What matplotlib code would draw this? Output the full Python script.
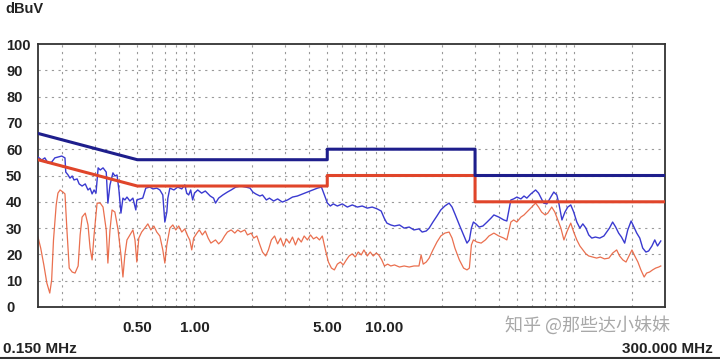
import matplotlib
matplotlib.use("Agg")
import matplotlib.pyplot as plt

# ---------------- data ----------------
limit_freq = [0.15, 0.5, 5, 5, 30, 30, 300]
qp_limit = [66, 56, 56, 60, 60, 50, 50]
av_limit = [56, 46, 46, 50, 50, 40, 40]

blue_freq = [0.150, 0.157, 0.163, 0.169, 0.177, 0.184, 0.191, 0.200, 0.208, 0.210,
             0.216, 0.221, 0.227, 0.232, 0.241, 0.247, 0.256, 0.266, 0.275, 0.282,
             0.289, 0.296, 0.303, 0.307, 0.311, 0.319, 0.330, 0.343, 0.350, 0.359,
             0.372, 0.381, 0.391, 0.400, 0.410, 0.420, 0.430, 0.441, 0.457, 0.474,
             0.491, 0.497, 0.515, 0.534, 0.554, 0.582, 0.604, 0.633, 0.657, 0.681,
             0.698, 0.715, 0.724, 0.742, 0.779, 0.816, 0.857, 0.889, 0.910, 0.932,
             0.955, 0.978, 1.00, 1.04, 1.09, 1.14, 1.21, 1.26, 1.29, 1.34,
             1.41, 1.49, 1.56, 1.65, 1.75, 1.86, 1.96, 2.03, 2.10, 2.21,
             2.28, 2.39, 2.48, 2.61, 2.74, 2.90, 3.09, 3.28, 3.48, 3.71,
             3.93, 4.18, 4.44, 4.66, 4.83, 5.01, 5.19, 5.38, 5.65, 6.00,
             6.38, 6.77, 7.20, 7.64, 8.12, 8.62, 9.16, 9.61, 9.97, 10.3,
             10.8, 11.3, 12.0, 12.7, 13.5, 14.3, 15.2, 15.8, 16.6, 17.2,
             18.0, 18.9, 19.8, 20.8, 21.9, 22.7, 23.5, 24.8, 26.1, 27.2,
             28.0, 28.7, 29.4, 30.3, 31.5, 33.0, 34.7, 36.4, 37.7, 40.0,
             42.5, 44.1, 46.3, 47.9, 49.8, 52.3, 54.3, 56.2, 59.0, 62.5,
             64.8, 66.4, 68.9, 71.6, 75.1, 77.9, 80.8, 82.8, 86.0, 89.2,
             92.3, 95.7, 99.2, 103, 106.9, 110.8, 115, 119, 123.5, 129,
             136, 143, 148, 153, 159, 165, 171, 177, 184, 191,
             199, 206, 213, 221, 229, 238, 246, 256, 265, 274, 285]
blue_level = [57.0, 55.9, 56.7, 54.8, 55.1, 56.7, 57.0, 57.4, 56.7, 51.3,
              50.2, 49.0, 49.8, 48.3, 48.7, 46.8, 46.0, 46.8, 44.5, 45.2,
              43.0, 44.5, 43.3, 48.3, 52.9, 52.1, 52.9, 51.3, 39.5, 46.4,
              51.0, 49.8, 50.2, 44.5, 35.7, 41.4, 40.7, 41.8, 40.3, 41.4,
              36.9, 40.7, 41.1, 41.4, 45.2, 45.6, 44.9, 45.2, 44.5, 42.6,
              32.3, 36.1, 41.4, 45.2, 44.5, 45.6, 44.9, 46.4, 43.3, 42.6,
              44.5, 40.7, 43.3, 44.5, 43.3, 44.1, 42.2, 41.4, 39.5, 41.4,
              42.6, 43.7, 44.5, 45.6, 46.0, 45.6, 45.2, 43.7, 43.0, 42.2,
              42.6, 40.7, 41.4, 40.3, 41.1, 39.9, 40.7, 41.8, 42.2, 43.0,
              43.7, 44.5, 45.2, 45.6, 42.6, 39.5, 38.4, 39.2, 38.4, 39.2,
              38.0, 38.8, 38.0, 38.4, 37.6, 38.0, 37.3, 36.5, 33.8, 31.9,
              31.2, 30.8, 31.2, 30.0, 30.4, 29.3, 29.7, 28.5, 28.9, 30.0,
              32.3, 34.6, 36.9, 38.4, 39.5, 38.0, 35.4, 31.2, 27.4, 24.3,
              25.5, 30.0, 32.3, 31.6, 30.4, 30.8, 32.3, 33.8, 35.0, 34.2,
              33.1, 32.7, 40.7, 41.1, 41.8, 41.1, 42.2, 41.4, 43.0, 44.5,
              43.3, 41.8, 39.5, 39.2, 41.8, 43.7, 42.6, 39.5, 33.1, 36.1,
              38.0, 38.8, 36.1, 32.3, 30.0, 31.6, 30.0, 27.4, 26.2, 26.6,
              26.2, 27.0, 28.5, 30.0, 32.3, 30.4, 28.1, 26.6, 24.3, 29.3,
              32.7, 30.4, 28.1, 26.2, 22.4, 20.9, 21.3, 23.2, 25.5, 23.2, 25.1]

red_freq = [0.150, 0.155, 0.161, 0.167, 0.173, 0.177, 0.181, 0.187, 0.191, 0.196,
            0.203, 0.208, 0.213, 0.219, 0.227, 0.235, 0.244, 0.250, 0.256, 0.266,
            0.275, 0.282, 0.289, 0.296, 0.307, 0.319, 0.330, 0.343, 0.350, 0.359,
            0.368, 0.381, 0.396, 0.410, 0.420, 0.430, 0.441, 0.457, 0.474, 0.486,
            0.497, 0.509, 0.527, 0.547, 0.568, 0.589, 0.611, 0.633, 0.657, 0.681,
            0.698, 0.715, 0.742, 0.769, 0.797, 0.826, 0.857, 0.889, 0.921, 0.944,
            0.967, 0.990, 1.03, 1.06, 1.10, 1.14, 1.18, 1.22, 1.29, 1.34,
            1.39, 1.44, 1.49, 1.56, 1.63, 1.69, 1.75, 1.84, 1.90, 1.99,
            2.05, 2.13, 2.21, 2.28, 2.37, 2.45, 2.54, 2.64, 2.74, 2.84,
            2.94, 3.05, 3.16, 3.28, 3.40, 3.52, 3.65, 3.78, 3.93, 4.08,
            4.23, 4.39, 4.55, 4.71, 4.89, 5.07, 5.26, 5.45, 5.65, 5.86,
            6.07, 6.30, 6.52, 6.77, 7.02, 7.28, 7.55, 7.80, 8.12, 8.42,
            8.73, 9.05, 9.33, 9.68, 10.0, 10.4, 10.8, 11.3, 12.0, 12.7,
            13.5, 14.3, 15.2, 15.6, 16.0, 16.6, 17.2, 18.0, 18.9, 19.8,
            20.8, 21.9, 22.7, 23.5, 24.8, 26.1, 27.2, 28.0, 28.7, 29.4,
            30.7, 32.3, 34.0, 35.5, 37.7, 40.0, 42.5, 44.1, 46.3, 47.9,
            49.8, 52.3, 54.3, 56.2, 59.0, 62.5, 64.8, 67.2, 70.2, 72.5,
            76.0, 78.9, 81.8, 84.9, 88.1, 91.2, 95.7, 99.2, 103, 106.9,
            110.8, 115, 119, 125, 131, 137, 144, 152, 159, 167,
            173, 180, 187, 194, 201, 208, 216, 224, 233, 240,
            249, 258, 268, 278, 285]
red_level = [26.6, 22.4, 16.0, 9.1, 5.3, 10.3, 25.5, 38.8, 43.3, 44.5,
             43.7, 43.0, 29.3, 14.8, 13.3, 12.9, 15.6, 27.4, 34.2, 35.7,
             31.2, 22.4, 17.9, 27.4, 39.5, 39.5, 38.0, 29.3, 16.7, 29.3,
             36.9, 36.1, 29.3, 19.8, 11.4, 19.8, 25.5, 27.4, 29.3, 25.5,
             17.1, 26.2, 28.5, 30.0, 31.6, 29.3, 30.8, 28.5, 27.0, 21.7,
             16.7, 23.6, 30.0, 31.2, 29.3, 30.8, 28.5, 29.7, 27.0, 25.5,
             21.7, 26.2, 28.1, 29.3, 27.4, 28.9, 26.2, 24.3, 25.5, 24.0,
             25.1, 27.0, 28.5, 29.3, 28.1, 29.3, 28.5, 29.3, 27.4, 28.1,
             26.2, 27.0, 23.6, 20.9, 19.4, 21.7, 25.5, 27.0, 24.0, 26.2,
             23.2, 25.9, 24.3, 26.6, 23.6, 26.2, 24.7, 27.0, 25.5, 27.4,
             25.9, 26.6, 25.5, 27.0, 21.7, 17.1, 14.8, 14.1, 16.3, 17.1,
             16.0, 17.9, 19.4, 20.2, 19.0, 20.9, 19.8, 21.7, 19.4, 20.9,
             19.4, 20.5, 19.8, 17.9, 15.6, 16.3, 15.6, 16.0, 15.2, 15.6,
             15.2, 15.6, 15.6, 19.8, 16.3, 17.1, 18.6, 21.7, 24.7, 27.0,
             28.1, 28.5, 26.2, 22.4, 17.9, 14.8, 14.1, 14.8, 23.6, 25.5,
             24.7, 24.3, 25.5, 27.0, 28.1, 27.0, 26.2, 25.5, 32.3, 33.1,
             32.3, 34.2, 35.0, 36.1, 37.6, 39.5, 38.0, 36.1, 35.0, 35.7,
             38.0, 36.1, 33.1, 30.0, 25.5, 28.5, 31.9, 28.5, 25.5, 23.2,
             21.7, 20.2, 19.4, 19.0, 18.6, 19.0, 18.3, 18.6, 20.5, 21.7,
             19.4, 17.9, 17.1, 19.4, 21.7, 19.4, 17.1, 14.1, 11.4, 12.9,
             13.3, 14.1, 14.8, 15.2, 15.6]

y_ticks = [0, 10, 20, 30, 40, 50, 60, 70, 80, 90, 100]
x_tick_freq = [0.5, 1, 5, 10]
x_tick_labels = ["0.50", "1.00", "5.00", "10.00"]

# ---------------- figure ----------------
W, H = 720, 359
fig = plt.figure(figsize=(W / 100, H / 100), dpi=100)
fig.patch.set_facecolor("white")
ax = fig.add_axes([38 / W, 1 - 307 / H, (665 - 38) / W, (307 - 44) / H])
ax.set_xscale("log")
ax.set_xlim(0.15, 300)
ax.set_ylim(0, 100)

grid_kw = dict(color="#9a9a9a", lw=0.8, ls=(0, (2, 4)), zorder=0)
for dec in [0.1, 1, 10, 100]:
    for m in range(1, 10):
        f = dec * m
        if 0.15 < f < 300:
            ax.axvline(f, **grid_kw)
for yv in y_ticks[1:-1]:
    ax.axhline(yv, **grid_kw)

ax.plot(red_freq, red_level, color="#e8603c", lw=0.9, alpha=0.9, zorder=2)
ax.plot(blue_freq, blue_level, color="#3a3ad0", lw=1.0, zorder=3)
ax.plot(limit_freq, av_limit, color="#e0452a", lw=2.2, zorder=4)
ax.plot(limit_freq, qp_limit, color="#1e1e8c", lw=2.2, zorder=4)

for s in ax.spines.values():
    s.set_color("#333333")
    s.set_linewidth(1.3)

ax.set_yticks(y_ticks)
ax.set_yticklabels([str(v) for v in y_ticks], fontsize=10.5, fontweight="bold",
                   family="Liberation Sans", color="#222222")
ax.tick_params(axis="y", length=0, pad=23)
for lbl in ax.get_yticklabels():
    lbl.set_ha("left")

ax.set_xticks(x_tick_freq)
ax.set_xticklabels(x_tick_labels, fontsize=11, fontweight="bold",
                   family="Liberation Sans", color="#222222")
ax.xaxis.set_minor_locator(matplotlib.ticker.NullLocator())
ax.tick_params(axis="x", length=0, pad=10)

fig.text(5 / W, 1 - 9 / H, "dBuV", fontsize=10.5, fontweight="bold",
         family="Liberation Sans", color="#222222", va="center", ha="left")
fig.text(3 / W, 1 - 349 / H, "0.150 MHz", fontsize=11, fontweight="bold",
         family="Liberation Sans", color="#222222", va="center", ha="left")
fig.text(713 / W, 1 - 349 / H, "300.000 MHz", fontsize=11, fontweight="bold",
         family="Liberation Sans", color="#222222", va="center", ha="right")

fig.text(505 / W, 1 - 325 / H, "知乎 @那些达小妹妹", fontsize=13,
         family=["Noto Sans CJK SC", "DejaVu Sans"], color="#a8a8a8",
         va="center", ha="left", zorder=10)

fig.add_artist(matplotlib.lines.Line2D([0, 1], [1 - 357.5 / H, 1 - 357.5 / H],
                                       color="#333333", lw=1.5))

fig.savefig("out.png", dpi=100, facecolor="white")
